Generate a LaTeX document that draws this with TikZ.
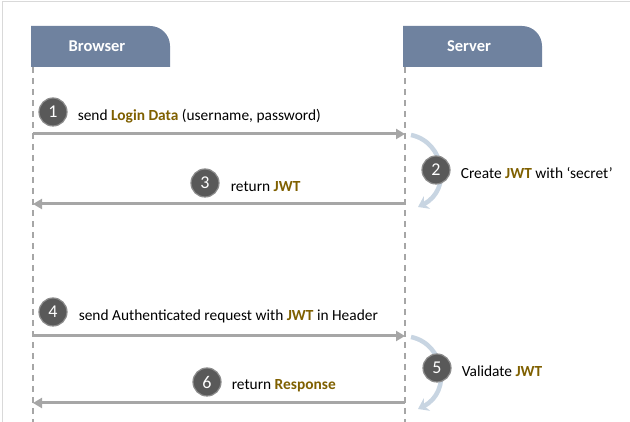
\documentclass[tikz,border=0pt]{standalone}
\usepackage{fontspec}
\setmainfont{Carlito}
\usetikzlibrary{positioning,arrows.meta}
\definecolor{hdr}{HTML}{6F829F}
\definecolor{key}{HTML}{7F6000}
\definecolor{msg}{HTML}{A6A6A6}
\definecolor{loopc}{HTML}{C8D5E2}
\def\kw#1{{\color{key}\bfseries #1}}

\begin{document}
\begin{tikzpicture}[x=1pt,y=1pt,font=\fontsize{15.4}{17}\selectfont,
  num/.style={circle,fill=black!65,draw=black!45,line width=1.2pt,minimum size=28pt,inner sep=0pt,text=white,font=\fontsize{18}{18}\selectfont},
  lbl/.style={inner sep=0pt},
  msgarrow/.style={msg,line width=3pt,-{Triangle[length=9pt,width=10pt]}},
  selfarrow/.style={loopc,line width=4.5pt,-{Stealth[length=10pt,width=14pt]}},
  life/.style={black!35,line width=1.3pt,dash pattern=on 6pt off 5pt}]
  \useasboundingbox (0,0) rectangle (630,422);
  \draw[black!15] (2,0) |- (630,421);

  % lanes: left x, name
  \def\lane#1#2{
    \fill[hdr] (#1,355) -- (#1,396) -- (#1+119,396) arc (90:0:20) -- (#1+139,355) -- cycle;
    \node[text=white,font=\bfseries\fontsize{16.5}{18}\selectfont] (#2) at (#1+66,376) {#2};
    \coordinate (#2top) at (#1+2,355);
    \coordinate (#2end) at (#1+2,0);
    \draw[life] (#2top) -- (#2end);
  }
  \lane{31}{Browser}
  \lane{403}{Server}

  \foreach \y [count=\i] in {288,218,86,19} {
    \coordinate (b\i) at (33,\y);
    \coordinate (s\i) at (405,\y);
  }
  \draw[msgarrow] (b1) -- (s1);
  \draw[msgarrow] (s2) -- (b2);
  \draw[msgarrow] (b3) -- (s3);
  \draw[msgarrow] (s4) -- (b4);

  % server work
  \coordinate (w1a) at (411,287);
  \coordinate (w1b) at (418,215);
  \coordinate (w2a) at (411,85);
  \coordinate (w2b) at (418,13);
  \draw[selfarrow] (w1a) .. controls (445,280) and (452,232) .. (w1b);
  \draw[selfarrow] (w2a) .. controls (445,78) and (452,30) .. (w2b);

  \node[num] (n1) at (53,310) {1};
  \node[num] (n2) at (436,252) {2};
  \node[num] (n3) at (205,239) {3};
  \node[num] (n4) at (53,110) {4};
  \node[num] (n5) at (437,54) {5};
  \node[num] (n6) at (207,40) {6};

  \node[lbl,right=10pt of n1,yshift=-4pt] (t1) {send \kw{Login Data} (username, password)};
  \node[lbl,right=10pt of n2,yshift=-3pt] (t2) {Create \kw{JWT} with ‘secret’};
  \node[lbl,right=11pt of n3,yshift=-4pt] (t3) {return \kw{JWT}};
  \node[lbl,right=11pt of n4,yshift=-4pt] (t4) {send Authenticated request with \kw{JWT} in Header};
  \node[lbl,right=10pt of n5,yshift=-3pt] (t5) {Validate \kw{JWT}};
  \node[lbl,right=10pt of n6,yshift=-4pt] (t6) {return \kw{Response}};
\end{tikzpicture}
\end{document}
